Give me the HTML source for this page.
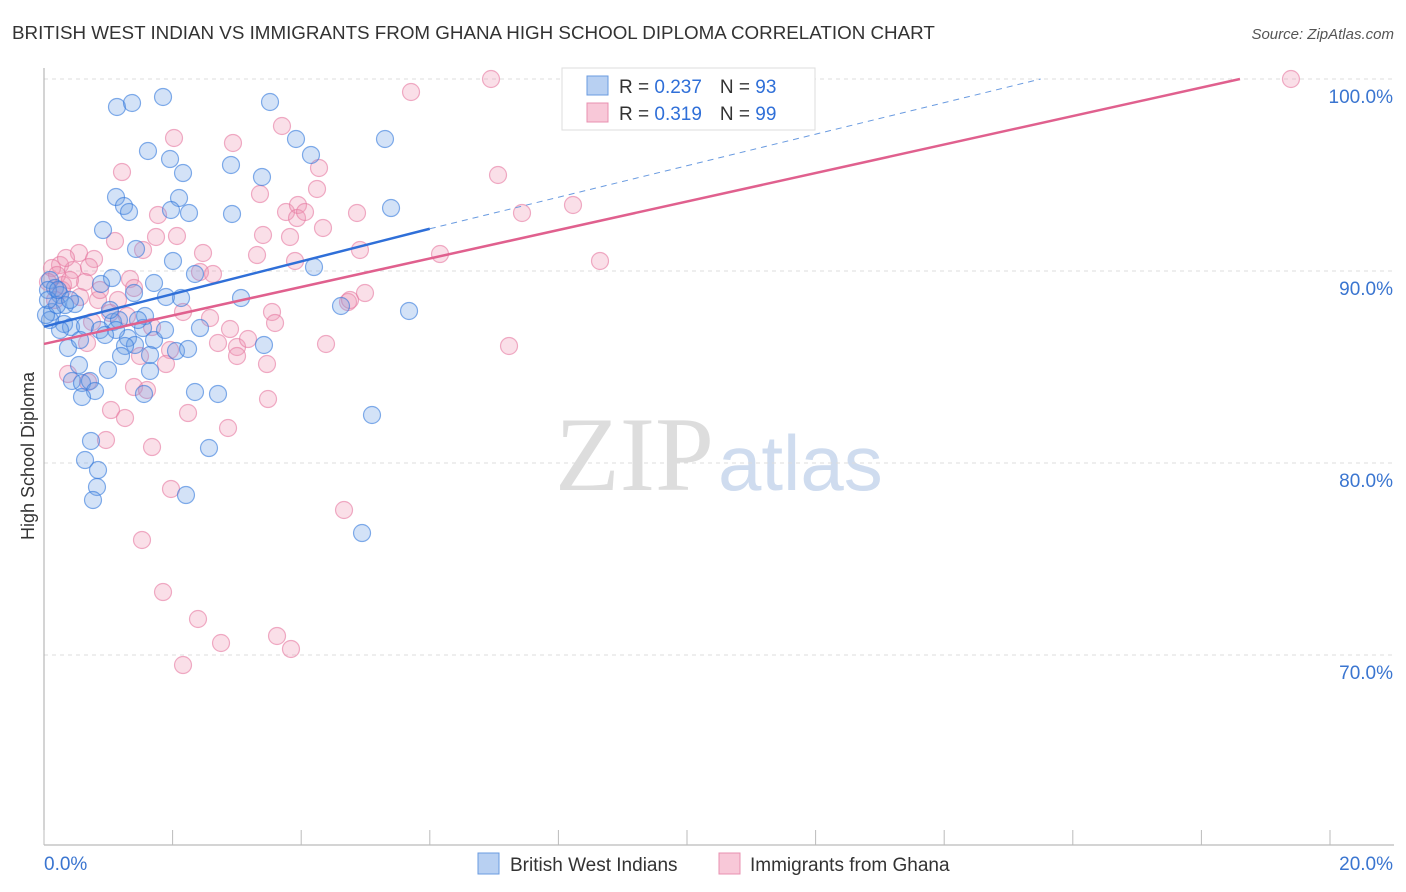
<!DOCTYPE html>
<html><head><meta charset="utf-8">
<style>
body{margin:0;background:#fff;font-family:"Liberation Sans",sans-serif;}
#wrap{position:relative;width:1406px;height:892px;overflow:hidden;}
</style></head>
<body><div id="wrap">
<svg id="svg" width="1406" height="892" xmlns="http://www.w3.org/2000/svg">
<text x="12" y="39" font-size="18.8" fill="#333">BRITISH WEST INDIAN VS IMMIGRANTS FROM GHANA HIGH SCHOOL DIPLOMA CORRELATION CHART</text>
<text x="1394" y="39" font-size="15" fill="#555" font-style="italic" text-anchor="end">Source: ZipAtlas.com</text>
<text x="34" y="456" font-size="18" fill="#333" text-anchor="middle" transform="rotate(-90 34 456)">High School Diploma</text>
<text x="555" y="490" font-size="106" fill="#ddd" font-family="Liberation Serif,serif">ZIP</text>
<text x="718" y="490" font-size="78" fill="#cfdcef">atlas</text>
<g id="grid"></g><g id="pts"></g><g id="lines"></g>
<g>
<rect x="562" y="68" width="253" height="62" fill="#fff" stroke="#ddd"/>
<rect x="587" y="76" width="21" height="19" fill="#b8d0f2" stroke="#6a9be0"/>
<text x="619" y="93" font-size="19" fill="#333">R = <tspan fill="#2f6fd8">0.237</tspan><tspan dx="18">N = </tspan><tspan fill="#2f6fd8">93</tspan></text>
<rect x="587" y="103" width="21" height="19" fill="#f8c8d8" stroke="#e890b0"/>
<text x="619" y="120" font-size="19" fill="#333">R = <tspan fill="#2f6fd8">0.319</tspan><tspan dx="18">N = </tspan><tspan fill="#2f6fd8">99</tspan></text>
</g>
<g>
<rect x="478" y="853" width="21" height="21" fill="#b8d0f2" stroke="#6a9be0"/>
<text x="510" y="871" font-size="19" fill="#333">British West Indians</text>
<rect x="719" y="853" width="21" height="21" fill="#f8c8d8" stroke="#e890b0"/>
<text x="750" y="871" font-size="19" fill="#333">Immigrants from Ghana</text>
</g>
</svg>
<script>
const yTicks=[100,90,80,70];
const xTickLabels=["0.0%","20.0%"];
const blueTrend=[[0,87.1],[6,92.2],[15.5,100]];
const pinkTrend=[[0,86.2],[18.6,100]];
const bluePx=[[117,107],[132,103],[163,97],[270,102],[148,151],[170,159],[231,165],[296,139],[311,155],[385,139],[183,173],[262,177],[116,197],[124,206],[129,212],[179,198],[171,210],[189,213],[232,214],[391,208],[103,230],[136,249],[173,261],[314,267],[195,274],[112,278],[154,283],[101,284],[134,293],[166,297],[181,298],[241,298],[341,306],[409,311],[75,304],[50,280],[55,288],[48,290],[60,295],[65,305],[52,312],[64,324],[71,327],[85,326],[113,322],[119,320],[145,316],[110,310],[143,328],[200,328],[128,338],[135,345],[125,346],[154,340],[68,348],[121,356],[176,351],[188,349],[264,345],[108,370],[150,371],[79,365],[72,381],[82,383],[90,381],[95,391],[144,394],[82,397],[195,392],[218,394],[372,415],[91,441],[85,460],[98,470],[97,487],[93,500],[186,495],[209,448],[362,533],[60,330],[50,320],[46,315],[57,305],[80,340],[100,330],[116,330],[48,300],[58,290],[70,300],[105,335],[138,320],[165,330],[150,355]];
const pinkPx=[[491,79],[1291,79],[411,92],[174,138],[233,143],[282,126],[319,168],[317,189],[122,172],[498,175],[573,205],[522,213],[158,215],[260,194],[286,212],[298,205],[297,218],[305,212],[357,213],[323,228],[177,236],[156,237],[115,241],[263,235],[290,237],[360,250],[440,254],[600,261],[203,253],[257,255],[295,261],[79,253],[94,259],[60,265],[73,270],[89,267],[130,279],[200,272],[213,274],[63,285],[85,282],[80,297],[98,300],[118,300],[134,288],[348,302],[350,300],[365,293],[183,312],[210,318],[272,312],[275,323],[230,329],[110,313],[127,316],[152,327],[92,322],[87,343],[218,343],[170,350],[237,347],[248,339],[326,344],[509,346],[140,356],[166,364],[237,356],[267,364],[68,374],[88,382],[134,387],[147,390],[268,399],[111,410],[125,418],[188,413],[228,428],[106,440],[152,447],[171,489],[344,510],[142,540],[163,592],[198,619],[221,643],[277,636],[291,649],[183,665],[52,268],[57,275],[48,282],[62,290],[70,280],[55,300],[66,258],[100,290],[143,250]];
const blueX=bluePx.map(p=>+((p[0]-44)/64.3).toFixed(3)), blueY=bluePx.map(p=>+(100-(p[1]-79)/19.2).toFixed(3));
const pinkX=pinkPx.map(p=>+((p[0]-44)/64.3).toFixed(3)), pinkY=pinkPx.map(p=>+(100-(p[1]-79)/19.2).toFixed(3));
const NS="http://www.w3.org/2000/svg";
const xs=v=>44+v*64.3, ys=v=>79+(100-v)*19.2;
function mk(t,a,parent){const e=document.createElementNS(NS,t);for(const k in a)e.setAttribute(k,a[k]);parent.appendChild(e);return e;}
const svg=document.getElementById('svg'),grid=document.getElementById('grid'),pts=document.getElementById('pts'),lines=document.getElementById('lines');
yTicks.forEach(t=>{
 const l=mk('line',{x1:44,x2:1394,y1:ys(t),y2:ys(t),stroke:'#ddd','stroke-dasharray':'4 4'},grid);
 
 
 const tx=mk('text',{x:1393,y:ys(t)+24,'font-size':19,fill:'#3a75d0','text-anchor':'end'},grid);
 tx.textContent=t.toFixed(1)+'%';
 
 
});
const ax=mk('line',{x1:44,x2:44,y1:68,y2:845,stroke:'#aaa'},grid);


const bx=mk('line',{x1:44,x2:1394,y1:845,y2:845,stroke:'#aaa'},grid);


for(let i=0;i<=10;i++){const t=mk('line',{x1:xs(i*2),x2:xs(i*2),y1:830,y2:845,stroke:'#bbb'},grid);
 
 }
const xl0=mk('text',{x:44,y:870,'font-size':19,fill:'#3a75d0'},grid);xl0.textContent=xTickLabels[0];


const xl1=mk('text',{x:1393,y:870,'font-size':19,fill:'#3a75d0','text-anchor':'end'},grid);xl1.textContent=xTickLabels[1];


function dots(X,Y,fill,stroke,name){X.forEach((x,i)=>{const c=mk('circle',{cx:xs(x),cy:ys(Y[i]),r:8.5,fill:fill,stroke:stroke,'stroke-width':1.2},pts);
 
 });}
dots(pinkX,pinkY,'rgba(240,150,180,0.3)','rgba(230,120,160,0.6)','ghana-point');
dots(blueX,blueY,'rgba(110,160,230,0.3)','rgba(50,120,220,0.6)','bwi-point');
const b1=mk('line',{x1:xs(blueTrend[0][0]),y1:ys(blueTrend[0][1]),x2:xs(blueTrend[1][0]),y2:ys(blueTrend[1][1]),stroke:'#2f6fd8','stroke-width':2.5},lines);


const b2=mk('line',{x1:xs(blueTrend[1][0]),y1:ys(blueTrend[1][1]),x2:xs(blueTrend[2][0]),y2:ys(blueTrend[2][1]),stroke:'#6a9be0','stroke-width':1,'stroke-dasharray':'6 5'},lines);


const p1=mk('line',{x1:xs(pinkTrend[0][0]),y1:ys(pinkTrend[0][1]),x2:xs(pinkTrend[1][0]),y2:ys(pinkTrend[1][1]),stroke:'#e0608e','stroke-width':2.5},lines);


</script>
</div></body></html>
